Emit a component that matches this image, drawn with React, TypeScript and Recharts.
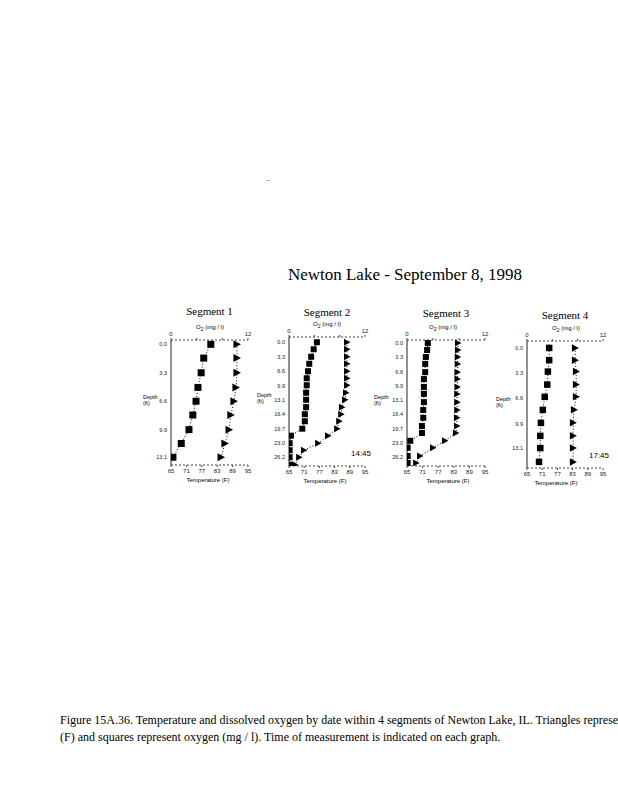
import { ScatterChart, Scatter, XAxis, YAxis } from 'recharts'

// axis ticks
const tempTicks = [65, 71, 77, 83, 89, 95]
const oxygenTicks = [0, 4, 8, 12]
const shallowDepthTicks = [0, 3.3, 6.6, 9.9, 13.1]
const deepDepthTicks = [0, 3.3, 6.6, 9.9, 13.1, 16.4, 19.7, 23.0, 26.2]

// Segment 1
const seg1Depth = [0, 1.6, 3.3, 5.0, 6.6, 8.2, 9.9, 11.5, 13.1]
const seg1Temp = [90.7, 90.7, 90.7, 90.3, 89.5, 88.3, 87.6, 86.0, 84.5]
const seg1Oxygen = [6.2, 5.1, 4.7, 4.2, 3.9, 3.4, 2.8, 1.6, 0.3]

// Segment 2
const seg2Depth = [0, 1.6, 3.3, 4.9, 6.6, 8.2, 9.8, 11.5, 13.1, 14.8, 16.4, 18.0, 19.7, 21.3, 23.0, 24.6, 26.2, 27.9]
const seg2Temp = [87.9, 87.9, 87.9, 87.9, 87.9, 87.9, 87.9, 87.5, 87.1, 85.9, 85.6, 84.8, 84.0, 80.4, 76.5, 70.9, 69.0, 67.4]
const seg2Oxygen = [4.4, 3.9, 3.5, 3.2, 3.0, 2.8, 2.8, 2.7, 2.7, 2.7, 2.5, 2.5, 2.1, 0.3, 0.1, 0.1, 0.1, 0.1]

// Segment 3
const seg3Depth = [0, 1.6, 3.2, 4.8, 6.7, 8.3, 10.1, 11.7, 13.6, 15.4, 17.2, 19.1, 20.7, 22.5, 24.1, 26.0, 27.6]
const seg3Temp = [84.6, 84.6, 84.5, 84.5, 84.4, 84.4, 84.4, 84.3, 84.3, 84.3, 84.2, 84.2, 83.8, 79.6, 75.0, 70.0, 68.5]
const seg3Oxygen = [3.2, 3.1, 2.9, 2.8, 2.8, 2.6, 2.6, 2.6, 2.6, 2.5, 2.5, 2.3, 2.3, 0.5, 0.1, 0.1, 0.1]

// Segment 4
const seg4Depth = [0, 1.6, 3.1, 4.8, 6.4, 8.1, 9.8, 11.5, 13.1, 14.9]
const seg4Temp = [84.0, 84.0, 84.4, 84.4, 84.4, 83.6, 83.2, 83.2, 83.2, 83.2]
const seg4Oxygen = [3.5, 3.5, 3.3, 3.2, 2.8, 2.5, 2.2, 2.1, 2.1, 1.9]

const serif = '"Liberation Serif", "Times New Roman", serif'
const sans = '"Liberation Sans", Arial, sans-serif'

const toPoints = (values: number[], depths: number[]) =>
  values.map((v, i) => ({ x: v, y: depths[i] }))

interface SegmentProps {
  title: string
  depth: number[]
  temp: number[]
  oxygen: number[]
  depthTicks: number[]
  yDomain: [number, number]
  plotLeft: number
  plotTop: number
  plotW: number
  plotH: number
  titleY: number
  oxyX: number
  tempX: number
  depthLabelX: number
  time?: string
  marker: number
}

const YW = 26
const TH = 12
const BH = 14
const MARGIN = { top: 4, right: 12, bottom: 2, left: 2 }

function Segment(p: SegmentProps) {
  const width = MARGIN.left + YW + p.plotW + MARGIN.right
  const height = MARGIN.top + TH + p.plotH + BH + MARGIN.bottom
  const left = p.plotLeft - YW - MARGIN.left
  const top = p.plotTop - TH - MARGIN.top
  const s = p.marker / 2

  const square = (props: any) => (
    <rect x={props.cx - s} y={props.cy - s} width={p.marker} height={p.marker} fill="#000" />
  )
  const triangle = (props: any) => (
    <polygon
      points={`${props.cx - s},${props.cy - s - 0.5} ${props.cx + s + 0.5},${props.cy} ${props.cx - s},${props.cy + s + 0.5}`}
      fill="#000"
    />
  )
  const midX = p.plotLeft + p.plotW / 2

  return (
    <>
      <div
        style={{
          position: 'absolute',
          left: midX - 50,
          width: 100,
          top: p.titleY - 7,
          textAlign: 'center',
          fontFamily: serif,
          fontSize: 11,
          lineHeight: '14px',
        }}
      >
        {p.title}
      </div>
      <div
        style={{
          position: 'absolute',
          left: p.oxyX - 30,
          width: 60,
          top: p.plotTop - 17,
          textAlign: 'center',
          fontFamily: sans,
          fontSize: 6,
          lineHeight: '8px',
        }}
      >
        O<sub style={{ fontSize: 5 }}>2</sub> (mg / l)
      </div>
      <div
        style={{
          position: 'absolute',
          left: p.tempX - 30,
          width: 60,
          top: p.plotTop + p.plotH + 11,
          textAlign: 'center',
          fontFamily: sans,
          fontSize: 6,
          lineHeight: '8px',
        }}
      >
        Temperature (F)
      </div>
      <div
        style={{
          position: 'absolute',
          left: p.depthLabelX,
          top: p.plotTop + p.plotH * 0.43,
          fontFamily: sans,
          fontSize: 5.5,
          lineHeight: '6px',
        }}
      >
        Depth
        <br />
        (ft)
      </div>
      {p.time && (
        <div
          style={{
            position: 'absolute',
            left: p.plotLeft + p.plotW - 14,
            top: p.plotTop + p.plotH - 17,
            fontFamily: sans,
            fontSize: 8,
            lineHeight: '10px',
          }}
        >
          {p.time}
        </div>
      )}
      <div style={{ position: 'absolute', left, top }}>
        <ScatterChart width={width} height={height} margin={MARGIN}>
          <XAxis
            xAxisId="oxy"
            orientation="top"
            type="number"
            dataKey="x"
            domain={[0, 12]}
            ticks={oxygenTicks}
            tickFormatter={(v: number) => (v === 0 || v === 12 ? String(v) : '')}
            height={TH}
            allowDataOverflow
            tickSize={2}
            tick={{ fontSize: 6, fill: '#222', fontFamily: sans }}
            axisLine={{ stroke: '#444', strokeDasharray: '2 2' }}
            tickLine={{ stroke: '#444' }}
          />
          <XAxis
            xAxisId="temp"
            orientation="bottom"
            type="number"
            dataKey="x"
            domain={[65, 95]}
            ticks={tempTicks}
            height={BH}
            allowDataOverflow
            tickSize={2}
            tick={{ fontSize: 6, fill: '#222', fontFamily: sans }}
            axisLine={{ stroke: '#444', strokeDasharray: '2 2' }}
            tickLine={{ stroke: '#444' }}
          />
          <YAxis
            type="number"
            dataKey="y"
            reversed
            domain={p.yDomain}
            ticks={p.depthTicks}
            tickFormatter={(v: number) => v.toFixed(1)}
            width={YW}
            allowDataOverflow
            tickSize={2}
            tick={{ fontSize: 5.5, fill: '#222', fontFamily: sans }}
            axisLine={{ stroke: '#222' }}
            tickLine={false}
          />
          <Scatter
            xAxisId="oxy"
            data={toPoints(p.oxygen, p.depth)}
            shape={square}
            line={{ stroke: '#000', strokeWidth: 1, strokeDasharray: '1 2' }}
            lineType="joint"
            isAnimationActive={false}
          />
          <Scatter
            xAxisId="temp"
            data={toPoints(p.temp, p.depth)}
            shape={triangle}
            line={{ stroke: '#000', strokeWidth: 1, strokeDasharray: '1 2' }}
            lineType="joint"
            isAnimationActive={false}
          />
        </ScatterChart>
      </div>
    </>
  )
}

export default function App() {
  return (
    <div
      style={{
        position: 'absolute',
        left: 0,
        top: 0,
        width: 618,
        height: 800,
        overflow: 'hidden',
        background: '#fff',
        color: '#000',
      }}
    >
      <div style={{ position: 'absolute', left: 266, top: 174, fontSize: 8, fontFamily: sans }}>..</div>
      <div
        style={{
          position: 'absolute',
          left: 255,
          width: 300,
          top: 264,
          textAlign: 'center',
          fontFamily: serif,
          fontSize: 17,
          lineHeight: '22px',
        }}
      >
        Newton Lake - September 8, 1998
      </div>

      <Segment
        title="Segment 1"
        depth={seg1Depth}
        temp={seg1Temp}
        oxygen={seg1Oxygen}
        depthTicks={shallowDepthTicks}
        yDomain={[-0.5, 14.0]}
        plotLeft={171}
        plotTop={340}
        plotW={77}
        plotH={125}
        titleY={311}
        oxyX={210}
        tempX={208}
        depthLabelX={143}
        marker={7}
      />
      <Segment
        title="Segment 2"
        depth={seg2Depth}
        temp={seg2Temp}
        oxygen={seg2Oxygen}
        depthTicks={deepDepthTicks}
        yDomain={[-1.2, 28.2]}
        plotLeft={289}
        plotTop={337}
        plotW={76}
        plotH={129}
        titleY={312}
        oxyX={327}
        tempX={325}
        depthLabelX={257}
        time="14:45"
        marker={6}
      />
      <Segment
        title="Segment 3"
        depth={seg3Depth}
        temp={seg3Temp}
        oxygen={seg3Oxygen}
        depthTicks={deepDepthTicks}
        yDomain={[-0.7, 28.3]}
        plotLeft={407}
        plotTop={340}
        plotW={78}
        plotH={126}
        titleY={313}
        oxyX={443}
        tempX={448}
        depthLabelX={374}
        marker={6}
      />
      <Segment
        title="Segment 4"
        depth={seg4Depth}
        temp={seg4Temp}
        oxygen={seg4Oxygen}
        depthTicks={shallowDepthTicks}
        yDomain={[-0.9, 15.7]}
        plotLeft={527}
        plotTop={341}
        plotW={76}
        plotH={127}
        titleY={315}
        oxyX={566}
        tempX={556}
        depthLabelX={496}
        time="17:45"
        marker={6.5}
      />

      <div
        style={{
          position: 'absolute',
          left: 60,
          top: 712,
          fontFamily: serif,
          fontSize: 12,
          lineHeight: '17px',
          whiteSpace: 'nowrap',
        }}
      >
        Figure 15A.36. Temperature and dissolved oxygen by date within 4 segments of Newton Lake, IL.  Triangles represent temperature
        <br />
        (F)  and squares represent oxygen (mg / l). Time of measurement is indicated on each graph.
      </div>
    </div>
  )
}
